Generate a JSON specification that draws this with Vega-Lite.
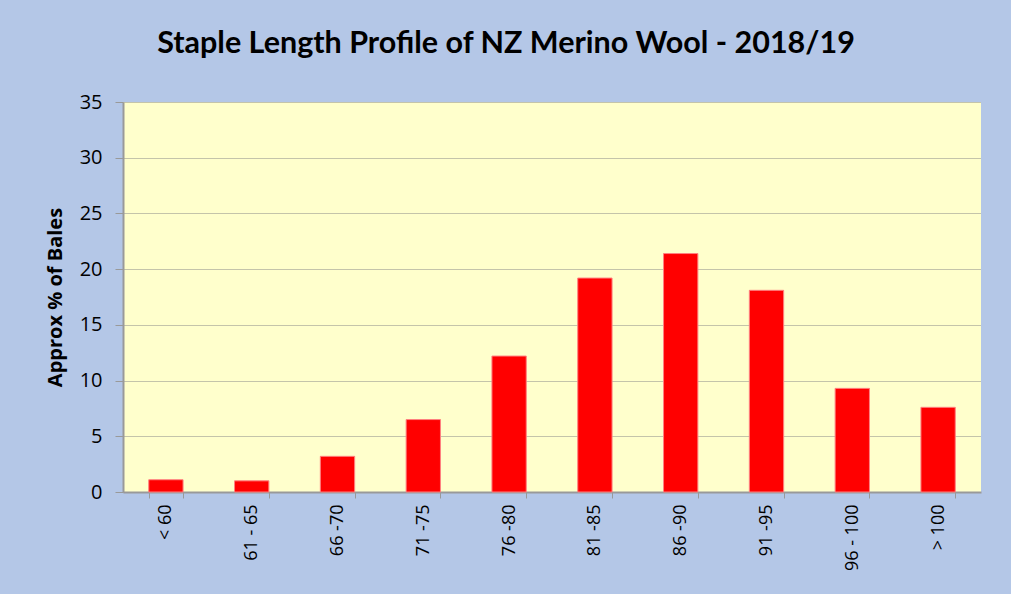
{
  "$schema": "https://vega.github.io/schema/vega-lite/v6.json",
  "width": 858,
  "height": 390,
  "autosize": {"type": "none"},
  "padding": {"left": 123, "top": 102, "right": 30, "bottom": 102},
  "background": "#B4C7E7",
  "title": {
    "text": "Staple Length Profile of NZ Merino Wool - 2018/19",
    "font": "Lato",
    "fontSize": 30.5,
    "fontWeight": "bold",
    "color": "#000000",
    "anchor": "middle",
    "frame": "group",
    "dx": -46,
    "offset": 33
  },
  "data": {
    "values": [
      {"range": "< 60", "pct": 1.1},
      {"range": "61 - 65", "pct": 1.0},
      {"range": "66 -70", "pct": 3.2},
      {"range": "71 -75", "pct": 6.5},
      {"range": "76 -80", "pct": 12.2},
      {"range": "81 -85", "pct": 19.2},
      {"range": "86 -90", "pct": 21.4},
      {"range": "91 -95", "pct": 18.1},
      {"range": "96 - 100", "pct": 9.3},
      {"range": "> 100", "pct": 7.6}
    ]
  },
  "mark": {"type": "bar", "color": "#FF0000", "stroke": "#FF8080", "strokeWidth": 1},
  "encoding": {
    "x": {
      "field": "range",
      "type": "nominal",
      "sort": null,
      "scale": {"paddingInner": 0.6, "paddingOuter": 0.3},
      "axis": {
        "title": null,
        "labelAngle": -90,
        "labelAlign": "right",
        "labelBaseline": "middle",
        "labelFont": "Open Sans",
        "labelFontSize": 18,
        "labelColor": "#000000",
        "labelPadding": 6,
        "tickBand": "extent",
        "tickSize": 6,
        "tickColor": "#999999",
        "domainColor": "#999999",
        "domainWidth": 2,
        "grid": false
      }
    },
    "y": {
      "field": "pct",
      "type": "quantitative",
      "scale": {"domain": [0, 35], "nice": false},
      "axis": {
        "title": "Approx % of Bales",
        "titleFont": "Open Sans",
        "titleFontSize": 20,
        "titleFontWeight": "bold",
        "titleColor": "#000000",
        "titlePadding": 14,
        "values": [0, 5, 10, 15, 20, 25, 30, 35],
        "labelFont": "Open Sans",
        "labelFontSize": 20,
        "labelColor": "#000000",
        "labelPadding": 13,
        "tickSize": 8,
        "tickColor": "#999999",
        "domainColor": "#999999",
        "domainWidth": 2,
        "grid": true,
        "gridColor": "#888888",
        "gridDash": [1, 1],
        "gridWidth": 1
      }
    }
  },
  "config": {
    "view": {"fill": "#FFFFCC", "stroke": null}
  }
}
